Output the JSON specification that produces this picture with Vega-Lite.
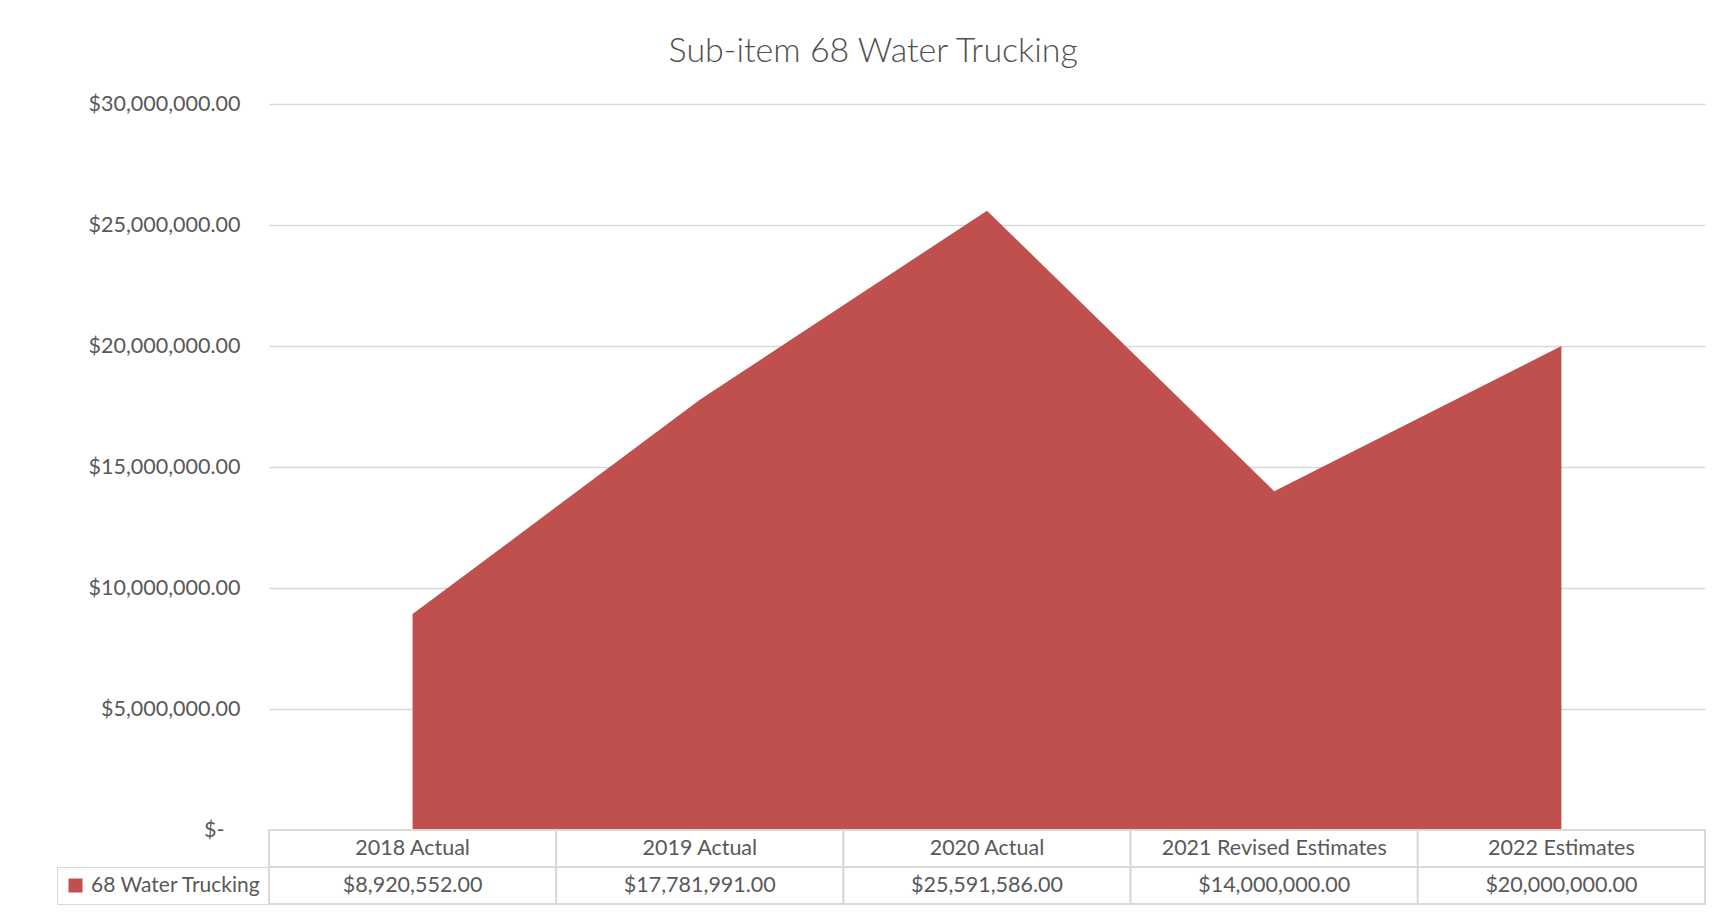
{
  "$schema": "https://vega.github.io/schema/vega-lite/v6.json",
  "background": "white",
  "padding": {"left": 56, "top": 35, "right": 20, "bottom": 5},
  "title": {"text": "Sub-item 68 Water Trucking", "font": "Lato", "fontSize": 34, "fontWeight": 300, "color": "#505050", "anchor": "middle", "offset": 24, "dx": -8},
  "datasets": {
    "main": [
      {"category": "2018 Actual", "series": "68 Water Trucking", "value": 8920552},
      {"category": "2019 Actual", "series": "68 Water Trucking", "value": 17781991},
      {"category": "2020 Actual", "series": "68 Water Trucking", "value": 25591586},
      {"category": "2021 Revised Estimates", "series": "68 Water Trucking", "value": 14000000},
      {"category": "2022 Estimates", "series": "68 Water Trucking", "value": 20000000}
    ]
  },
  "spacing": 0,
  "bounds": "flush",
  "resolve": {"scale": {"x": "independent", "y": "independent", "color": "independent"}, "legend": {"color": "independent"}},
  "vconcat": [
    {
      "width": 1436,
      "height": 726,
      "data": {"name": "main"},
      "mark": {"type": "area", "color": "#c0504d", "interpolate": "linear"},
      "encoding": {
        "x": {"field": "category", "type": "ordinal", "sort": null, "axis": null, "scale": {"type": "point", "padding": 0.5}},
        "y": {
          "field": "value",
          "type": "quantitative",
          "scale": {"domain": [0, 30000000], "nice": false},
          "axis": {
            "title": null,
            "values": [0, 5000000, 10000000, 15000000, 20000000, 25000000, 30000000],
            "labelExpr": "datum.value == 0 ? '$-\u2800' : '$' + format(datum.value, ',.2f')",
            "grid": true,
            "gridColor": "#d9d9d9",
            "gridWidth": 1.5,
            "domain": false,
            "ticks": false,
            "labelFont": "Lato",
            "labelFontSize": 21.5,
            "labelColor": "#595959",
            "labelPadding": 29
          }
        }
      }
    },
    {
      "width": 1436,
      "height": 37,
      "data": {"name": "main"},
      "layer": [
        {
          "mark": {"type": "rect", "fill": "white", "stroke": "#d9d9d9", "strokeWidth": 2},
          "encoding": {
            "x": {"field": "category", "type": "nominal", "sort": null, "axis": null, "scale": {"type": "band", "paddingInner": 0, "paddingOuter": 0}}
          }
        },
        {
          "mark": {"type": "text", "font": "Lato", "fontSize": 21.5, "color": "#595959"},
          "encoding": {
            "x": {"field": "category", "type": "nominal", "sort": null, "axis": null, "scale": {"type": "band", "paddingInner": 0, "paddingOuter": 0}},
            "text": {"field": "category"}
          }
        }
      ]
    },
    {
      "width": 1436,
      "height": 37,
      "data": {"name": "main"},
      "layer": [
        {
          "mark": {"type": "rect", "fill": "white", "stroke": "#d9d9d9", "strokeWidth": 2},
          "encoding": {
            "x": {"field": "category", "type": "nominal", "sort": null, "axis": null, "scale": {"type": "band", "paddingInner": 0, "paddingOuter": 0}}
          }
        },
        {
          "mark": {"type": "text", "font": "Lato", "fontSize": 21.5, "color": "#595959"},
          "encoding": {
            "x": {"field": "category", "type": "nominal", "sort": null, "axis": null, "scale": {"type": "band", "paddingInner": 0, "paddingOuter": 0}},
            "text": {"field": "value", "type": "quantitative", "format": "$,.2f"}
          }
        },
        {
          "mark": {"type": "square", "opacity": 0},
          "encoding": {
            "color": {
              "field": "series",
              "type": "nominal",
              "scale": {"range": ["#c0504d"]},
              "legend": {
                "orient": "left",
                "title": null,
                "symbolType": "square",
                "symbolSize": 196,
                "symbolOpacity": 1,
                "symbolStrokeWidth": 0,
                "labelFont": "Lato",
                "labelFontSize": 21,
                "labelColor": "#595959",
                "labelOffset": 5,
                "labelLimit": 400,
                "strokeColor": "#d9d9d9",
                "padding": 8,
                "offset": 0
              }
            }
          }
        }
      ]
    }
  ],
  "config": {"view": {"stroke": null}}
}
